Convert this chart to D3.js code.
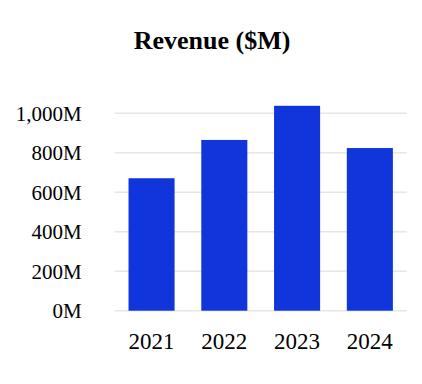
<!DOCTYPE html>
<html>
<head>
<meta charset="utf-8">
<script src="https://cdn.jsdelivr.net/npm/d3@7"></script>
<style>
  body { margin: 0; background: #fff; }
  text { font-family: "Liberation Serif", "Times New Roman", serif; }
</style>
</head>
<body>
<svg id="chart" width="422" height="384"></svg>
<script>
const years = ['2021', '2022', '2023', '2024'];
const revenue = [671, 865, 1038, 824];
const yTicks = [0, 200, 400, 600, 800, 1000];

const svg = d3.select('#chart');
const margin = {top: 113.3, right: 15.3, bottom: 73.3, left: 114.7};
const width = 422 - margin.left - margin.right;
const height = 384 - margin.top - margin.bottom;

// title
svg.append('text')
  .attr('x', 212)
  .attr('y', 49)
  .attr('text-anchor', 'middle')
  .style('font-size', '26px')
  .style('font-weight', 'bold')
  .text('Revenue ($M)');

const g = svg.append('g')
  .attr('transform', `translate(${margin.left},${margin.top})`);

const x = d3.scaleBand()
  .domain(years)
  .range([0, width])
  .paddingInner(0.367)
  .paddingOuter(0.19);

const y = d3.scaleLinear()
  .domain([0, 1000])
  .range([height, 0]);

// gridlines
g.selectAll('.grid')
  .data(yTicks)
  .enter()
  .append('line')
  .attr('x1', 0)
  .attr('x2', width)
  .attr('y1', d => y(d))
  .attr('y2', d => y(d))
  .attr('stroke', '#e6e6e6')
  .attr('stroke-width', 1.5);

// y labels
g.selectAll('.ylab')
  .data(yTicks)
  .enter()
  .append('text')
  .attr('x', 81.7 - margin.left)
  .attr('y', d => y(d))
  .attr('dy', '0.35em')
  .attr('text-anchor', 'end')
  .style('font-size', '21px')
  .text(d => d3.format(',')(d) + 'M');

// bars
g.selectAll('.bar')
  .data(revenue)
  .enter()
  .append('rect')
  .attr('x', (d, i) => x(years[i]))
  .attr('y', d => y(d))
  .attr('width', x.bandwidth())
  .attr('height', d => height - y(d))
  .attr('fill', '#1035db');

// x labels
g.selectAll('.xlab')
  .data(years)
  .enter()
  .append('text')
  .attr('x', d => x(d) + x.bandwidth() / 2)
  .attr('y', height + 38)
  .attr('text-anchor', 'middle')
  .style('font-size', '23px')
  .text(d => d);
</script>
</body>
</html>
